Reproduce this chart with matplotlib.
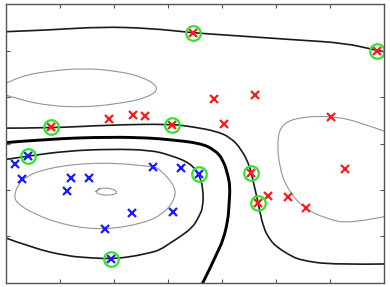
import numpy as np
import matplotlib
matplotlib.use("Agg")
import matplotlib.pyplot as plt
from matplotlib.path import Path
from matplotlib.patches import PathPatch

# training points
red_sv_x = [3.46, 6.87, 0.83, 3.07, 4.54, 4.67]
red_sv_y = [5.37, 5.00, 3.35, 3.40, 2.37, 1.72]
red_x = [1.91, 2.35, 2.57, 3.85, 4.61, 4.04, 6.02, 6.28, 4.85, 5.22, 5.56]
red_y = [3.52, 3.61, 3.59, 3.96, 4.04, 3.42, 3.57, 2.45, 1.87, 1.85, 1.61]
blue_sv_x = [0.41, 3.57, 1.94]
blue_sv_y = [2.73, 2.34, 0.52]
blue_x = [0.17, 0.30, 1.20, 1.54, 1.13, 2.72, 3.24, 2.33, 3.09, 1.83]
blue_y = [2.56, 2.24, 2.26, 2.26, 1.98, 2.49, 2.47, 1.51, 1.53, 1.16]

# traced contour lines of the decision function
top_x = [-0.1, 0.81, 1.74, 2.67, 3.46, 4.11, 5.35, 6.28, 6.83, 7.1]
top_y = [5.40, 5.44, 5.51, 5.48, 5.38, 5.33, 5.23, 5.16, 5.01, 4.95]

upl_x = [-0.1, 0.26, 0.81, 1.43, 2.06, 2.54, 2.86, 2.61, 2.06, 1.43, 0.81, 0.26, -0.1]
upl_y = [4.24, 4.45, 4.56, 4.62, 4.56, 4.43, 4.19, 3.98, 3.85, 3.78, 3.81, 3.94, 4.08]

mid_x = [-0.1, 0.81, 1.93, 3.07, 3.50, 3.87, 4.15, 4.37, 4.52, 4.57, 4.67, 4.76,
         4.89, 5.02, 5.22, 5.44, 6.06, 7.1]
mid_y = [3.33, 3.33, 3.40, 3.42, 3.35, 3.27, 3.14, 2.86, 2.49, 2.22, 1.72, 1.20,
         0.92, 0.77, 0.62, 0.49, 0.39, 0.41]

zero_x = [-0.1, 0.81, 1.93, 2.67, 3.04, 3.59, 3.87, 4.02, 4.11, 4.15, 4.13, 4.11,
          4.02, 3.91, 3.78, 3.60]
zero_y = [3.01, 3.10, 3.14, 3.12, 3.08, 3.01, 2.86, 2.65, 2.32, 2.06, 1.68, 1.35,
          0.92, 0.65, 0.32, -0.1]

blu_x = [-0.1, 0.41, 1.13, 1.93, 2.67, 3.04, 3.41, 3.57, 3.65, 3.65, 3.57, 3.46,
         3.22, 3.04, 2.85, 2.67, 2.30, 1.94, 1.56, 1.13, 0.50, -0.1]
blu_y = [2.64, 2.73, 2.84, 2.88, 2.86, 2.75, 2.58, 2.34, 2.06, 1.63, 1.42, 1.20,
         0.99, 0.86, 0.71, 0.65, 0.56, 0.52, 0.54, 0.58, 0.75, 1.01]

inner_x = [0.19, 0.26, 0.81, 1.74, 2.72, 2.85, 3.15, 3.11, 2.91, 2.57, 1.83, 1.13,
           0.50, 0.18, 0.16, 0.19]
inner_y = [2.00, 2.24, 2.49, 2.60, 2.51, 2.45, 2.06, 1.76, 1.49, 1.29, 1.14, 1.23,
           1.49, 1.74, 1.90, 2.00]

small_x = [1.65, 1.74, 1.98, 2.08, 1.93, 1.74, 1.65, 1.74]
small_y = [1.96, 2.05, 2.03, 1.94, 1.88, 1.90, 1.96, 2.05]

rgt_x = [7.1, 6.56, 6.04, 5.44, 5.11, 5.02, 5.06, 5.20, 5.50, 5.94, 6.37, 7.1]
rgt_y = [3.22, 3.46, 3.59, 3.57, 3.42, 3.08, 2.49, 2.04, 1.61, 1.38, 1.27, 1.45]


def smooth_path(xs, ys):
    # quadratic curve through the midpoints, traced points act as controls
    pts = np.column_stack([xs, ys])
    verts = [pts[0]]
    codes = [Path.MOVETO]
    for i in range(1, len(pts) - 1):
        end = pts[i + 1] if i == len(pts) - 2 else (pts[i] + pts[i + 1]) / 2
        verts += [pts[i], end]
        codes += [Path.CURVE3, Path.CURVE3]
    if len(pts) == 2:
        verts.append(pts[1])
        codes.append(Path.LINETO)
    return Path(verts, codes)


fig = plt.figure(figsize=(3.9, 2.87), dpi=100)
ax = fig.add_axes([0.015, 0.014, 0.97, 0.972])

grey = '#949494'
for cx, cy in [(upl_x, upl_y), (inner_x, inner_y), (small_x, small_y), (rgt_x, rgt_y)]:
    ax.add_patch(PathPatch(smooth_path(cx, cy), fc='none', ec=grey, lw=0.8))
for cx, cy in [(top_x, top_y), (mid_x, mid_y), (blu_x, blu_y)]:
    ax.add_patch(PathPatch(smooth_path(cx, cy), fc='none', ec='#1a1a1a', lw=1.2))
ax.add_patch(PathPatch(smooth_path(zero_x, zero_y), fc='none', ec='black', lw=2.1))

ax.plot(red_x + red_sv_x, red_y + red_sv_y, 'x', color='#ff1a1a', ms=5.5, mew=1.6)
ax.plot(blue_x + blue_sv_x, blue_y + blue_sv_y, 'x', color='#1a1aff', ms=5.5, mew=1.6)
ax.plot(red_sv_x + blue_sv_x, red_sv_y + blue_sv_y, 'o', mfc='none', mec='#2ee62e',
        ms=10.5, mew=1.6)

ax.set_xlim(0, 7)
ax.set_ylim(0, 6)
ax.set_xticks(range(1, 7))
ax.set_yticks(range(1, 6))
ax.tick_params(direction='in', length=3, width=0.8, color='#555555',
               top=True, right=True, labelbottom=False, labelleft=False)
for s in ax.spines.values():
    s.set_color('#555555')
    s.set_linewidth(1.0)

fig.savefig('out.png', dpi=100)
